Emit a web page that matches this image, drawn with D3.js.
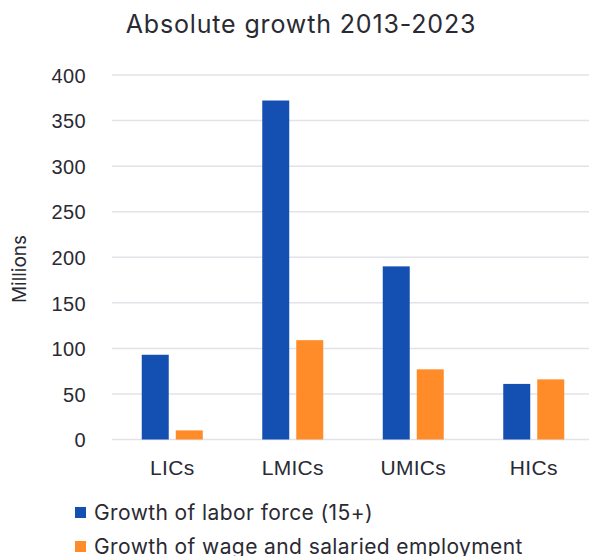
<!DOCTYPE html>
<html>
<head>
<meta charset="utf-8">
<script src="https://cdn.jsdelivr.net/npm/d3@7/dist/d3.min.js"></script>
<style>
  html, body { margin: 0; padding: 0; background: #fff; }
  svg { display: block; font-family: "Inter", "Open Sans", sans-serif; }
</style>
</head>
<body>
<svg id="chart" width="591" height="556"></svg>
<script>
// Income groups along the x axis
const categories = ["LICs", "LMICs", "UMICs", "HICs"];
// Series names and values (millions)
const seriesNames = ["Growth of labor force (15+)", "Growth of wage and salaried employment"];
const laborForce = [93, 372, 190, 61];
const wageEmployment = [10, 109, 77, 66];
const seriesColors = ["#1450B2", "#FF8C29"];
const yTicks = [0, 50, 100, 150, 200, 250, 300, 350, 400];

const svg = d3.select("#chart");
const textColor = "#2a2a33";

const plot = { left: 112, right: 594, top: 75, bottom: 439.5 };

const y = d3.scaleLinear().domain([0, 400]).range([plot.bottom, plot.top]);
const x0 = d3.scaleBand().domain(categories).range([plot.left, plot.right]).paddingInner(0).paddingOuter(0);
const groupHalf = 30.5;
const x1 = d3.scaleBand().domain([0, 1])
  .range([x0.bandwidth() / 2 - groupHalf, x0.bandwidth() / 2 + groupHalf])
  .paddingInner(0.206).paddingOuter(0);

// Gridlines
svg.append("g")
  .selectAll("line")
  .data(yTicks)
  .join("line")
  .attr("x1", plot.left).attr("x2", 589)
  .attr("y1", d => y(d)).attr("y2", d => y(d))
  .attr("stroke", "#e2e2e9").attr("stroke-width", 1.5);

// Y axis labels
const yAxis = d3.axisLeft(y).tickValues(yTicks).tickSize(0).tickPadding(0);
const yg = svg.append("g").attr("transform", `translate(86,0)`).call(yAxis);
yg.select(".domain").remove();
yg.selectAll("text").attr("fill", textColor).style("font-size", "20px")
  .style("letter-spacing", "0.4px").attr("dy", "0.36em");

// Bars
const seriesValues = [laborForce, wageEmployment];
const groups = svg.append("g")
  .selectAll("g")
  .data(categories)
  .join("g")
  .attr("transform", d => `translate(${x0(d)},0)`);

groups.selectAll("rect")
  .data((d, i) => seriesValues.map((vals, s) => ({ s, v: vals[i] })))
  .join("rect")
  .attr("x", d => x1(d.s))
  .attr("width", x1.bandwidth())
  .attr("y", d => y(d.v))
  .attr("height", d => y(0) - y(d.v))
  .attr("fill", d => seriesColors[d.s]);

// X axis labels
const xAxis = d3.axisBottom(x0).tickSize(0).tickPadding(0);
const xg = svg.append("g").attr("transform", `translate(0,467.5)`).call(xAxis);
xg.select(".domain").remove();
xg.selectAll("text").attr("fill", textColor).style("font-size", "21px")
  .style("letter-spacing", "0.3px").attr("dy", "0.36em");

// Title
svg.append("text")
  .attr("x", 301).attr("y", 33)
  .attr("text-anchor", "middle")
  .attr("fill", textColor)
  .style("font-size", "25px")
  .style("letter-spacing", "0.85px")
  .text("Absolute growth 2013-2023");

// Y axis title
svg.append("text")
  .attr("transform", "translate(26,269) rotate(-90)")
  .attr("text-anchor", "middle")
  .attr("fill", textColor)
  .style("font-size", "19px")
  .text("Millions");

// Legend
const legend = svg.append("g")
  .selectAll("g")
  .data(seriesNames)
  .join("g")
  .attr("transform", (d, i) => `translate(75,${512.5 + i * 34})`);
legend.append("rect")
  .attr("x", 0).attr("y", -5.5).attr("width", 11).attr("height", 11)
  .attr("fill", (d, i) => seriesColors[i]);
legend.append("text")
  .attr("x", 19).attr("y", 0).attr("dy", "0.36em")
  .attr("fill", textColor)
  .style("font-size", "21px")
  .style("letter-spacing", "0.4px")
  .text(d => d);
</script>
</body>
</html>
